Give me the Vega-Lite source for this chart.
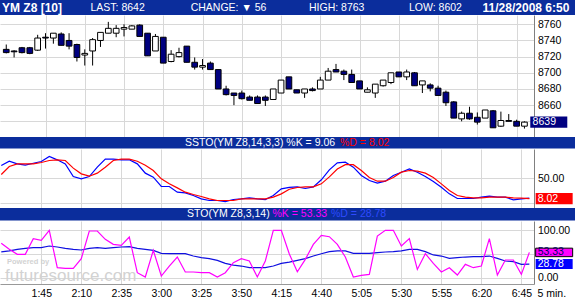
{
  "$schema": "https://vega.github.io/schema/vega-lite/v6.json",
  "padding": 0,
  "background": "white",
  "spacing": 0,
  "bounds": "flush",
  "config": {
    "view": {"stroke": null},
    "font": "Liberation Sans",
    "axis": {
      "labelFont": "Liberation Sans",
      "labelFontSize": 10.5,
      "labelColor": "black",
      "labelOverlap": false,
      "gridColor": "#d8d8d8",
      "gridWidth": 1,
      "ticks": false,
      "domainColor": "#808080",
      "zindex": 0
    }
  },
  "datasets": {
    "bars": [
      {"t":80,"open":8729,"high":8735,"low":8724,"close":8725,"sk":75.5,"sd":57.1,"fk":72.6,"fd":54.3},
      {"t":85,"open":8727,"high":8728,"low":8719,"close":8726,"sk":84.3,"sd":73.5,"fk":59.8,"fd":56.4},
      {"t":90,"open":8731,"high":8732,"low":8724,"close":8725,"sk":78.9,"sd":78.9,"fk":49.2,"fd":59.8},
      {"t":95,"open":8731,"high":8732,"low":8723,"close":8724,"sk":76.2,"sd":78.9,"fk":49.2,"fd":61.9},
      {"t":100,"open":8728,"high":8747,"low":8727,"close":8743,"sk":80.2,"sd":78.9,"fk":82.3,"fd":63.3},
      {"t":105,"open":8744,"high":8749,"low":8730,"close":8743,"sk":83.7,"sd":81.6,"fk":78.8,"fd":63.3},
      {"t":110,"open":8743,"high":8749,"low":8736,"close":8749,"sk":93.9,"sd":85.7,"fk":100,"fd":66.8},
      {"t":115,"open":8748,"high":8750,"low":8734,"close":8734,"sk":87.1,"sd":87.1,"fk":21.1,"fd":64.7},
      {"t":120,"open":8740,"high":8749,"low":8729,"close":8733,"sk":78.9,"sd":85.7,"fk":19.7,"fd":61.9},
      {"t":125,"open":8735,"high":8736,"low":8714,"close":8719,"sk":53,"sd":70.1,"fk":19.7,"fd":59.8},
      {"t":130,"open":8722,"high":8729,"low":8709,"close":8724,"sk":48.3,"sd":58.5,"fk":40.1,"fd":58.4},
      {"t":135,"open":8727,"high":8743,"low":8709,"close":8741,"sk":53,"sd":53.7,"fk":98.5,"fd":61.9},
      {"t":140,"open":8740,"high":8750,"low":8732,"close":8750,"sk":72.1,"sd":59.9,"fk":98.5,"fd":63.3},
      {"t":145,"open":8749,"high":8763,"low":8749,"close":8755,"sk":88.4,"sd":72.1,"fk":80.9,"fd":61.9},
      {"t":150,"open":8749,"high":8759,"low":8744,"close":8755,"sk":88.4,"sd":85.7,"fk":70.3,"fd":63.3},
      {"t":155,"open":8754,"high":8760,"low":8745,"close":8756,"sk":87.1,"sd":88.4,"fk":68.2,"fd":64.7},
      {"t":160,"open":8754,"high":8759,"low":8754,"close":8758,"sk":87.1,"sd":88.4,"fk":85.8,"fd":65.4},
      {"t":165,"open":8759,"high":8760,"low":8745,"close":8745,"sk":78.9,"sd":84.3,"fk":10.5,"fd":61.9},
      {"t":170,"open":8749,"high":8749,"low":8721,"close":8721,"sk":59.9,"sd":76.2,"fk":1.4,"fd":59.8},
      {"t":175,"open":8727,"high":8748,"low":8727,"close":8745,"sk":51.7,"sd":65.3,"fk":57.7,"fd":57.7},
      {"t":180,"open":8744,"high":8744,"low":8712,"close":8712,"sk":32.7,"sd":48.3,"fk":3.5,"fd":51.3},
      {"t":185,"open":8714,"high":8728,"low":8713,"close":8723,"sk":32.7,"sd":38.1,"fk":24.6,"fd":50.6},
      {"t":190,"open":8720,"high":8731,"low":8719,"close":8725,"sk":21.1,"sd":29.9,"fk":43.6,"fd":50.6},
      {"t":195,"open":8733,"high":8733,"low":8713,"close":8713,"sk":19.7,"sd":21.1,"fk":12,"fd":50.6},
      {"t":200,"open":8713,"high":8719,"low":8704,"close":8707,"sk":14.3,"sd":16.3,"fk":12,"fd":45.7},
      {"t":205,"open":8707,"high":8717,"low":8704,"close":8709,"sk":7.5,"sd":12.2,"fk":10.5,"fd":42.2},
      {"t":210,"open":8712,"high":8714,"low":8704,"close":8704,"sk":4.1,"sd":7.5,"fk":10.5,"fd":40.1},
      {"t":215,"open":8704,"high":8704,"low":8680,"close":8680,"sk":4.1,"sd":4.1,"fk":1.4,"fd":36.6},
      {"t":220,"open":8680,"high":8684,"low":8672,"close":8673,"sk":2,"sd":4.1,"fk":10.5,"fd":30.2},
      {"t":225,"open":8675,"high":8675,"low":8660,"close":8672,"sk":6.1,"sd":4.1,"fk":31.6,"fd":26.7},
      {"t":230,"open":8675,"high":8678,"low":8667,"close":8668,"sk":7.5,"sd":7.5,"fk":40.1,"fd":24.6},
      {"t":235,"open":8670,"high":8672,"low":8666,"close":8666,"sk":9.5,"sd":7.5,"fk":35.2,"fd":21.1},
      {"t":240,"open":8670,"high":8672,"low":8662,"close":8662,"sk":7.5,"sd":7.5,"fk":1.4,"fd":21.1},
      {"t":245,"open":8670,"high":8672,"low":8659,"close":8666,"sk":6.1,"sd":7.5,"fk":35.2,"fd":21.1},
      {"t":250,"open":8667,"high":8680,"low":8667,"close":8680,"sk":14.3,"sd":10.9,"fk":100,"fd":24.6},
      {"t":255,"open":8675,"high":8691,"low":8675,"close":8691,"sk":27.9,"sd":17.7,"fk":100,"fd":30.2},
      {"t":260,"open":8695,"high":8695,"low":8680,"close":8680,"sk":31,"sd":27,"fk":50,"fd":33},
      {"t":265,"open":8679,"high":8679,"low":8675,"close":8675,"sk":32,"sd":30.6,"fk":12.6,"fd":36.6},
      {"t":270,"open":8675,"high":8680,"low":8669,"close":8680,"sk":28.6,"sd":32,"fk":38.7,"fd":40.1},
      {"t":275,"open":8680,"high":8682,"low":8677,"close":8678,"sk":32,"sd":32,"fk":70.3,"fd":45.7},
      {"t":280,"open":8680,"high":8695,"low":8680,"close":8691,"sk":46.3,"sd":38.1,"fk":89.3,"fd":50.6},
      {"t":285,"open":8691,"high":8706,"low":8691,"close":8702,"sk":66.7,"sd":52.4,"fk":86.5,"fd":54.9},
      {"t":290,"open":8704,"high":8711,"low":8701,"close":8701,"sk":80.9,"sd":68.3,"fk":70.3,"fd":56.4},
      {"t":295,"open":8702,"high":8704,"low":8691,"close":8698,"sk":82.3,"sd":77.2,"fk":43.6,"fd":56.4},
      {"t":300,"open":8698,"high":8704,"low":8688,"close":8688,"sk":72.1,"sd":77.2,"fk":1.4,"fd":51.3},
      {"t":305,"open":8690,"high":8690,"low":8680,"close":8680,"sk":55.1,"sd":65.3,"fk":4.9,"fd":51.3},
      {"t":310,"open":8676,"high":8682,"low":8676,"close":8679,"sk":44.9,"sd":51,"fk":7,"fd":51.3},
      {"t":315,"open":8675,"high":8686,"low":8669,"close":8686,"sk":39.5,"sd":43.5,"fk":87.9,"fd":52.7},
      {"t":320,"open":8684,"high":8691,"low":8683,"close":8691,"sk":43.5,"sd":43.5,"fk":100,"fd":54.2},
      {"t":325,"open":8688,"high":8700,"low":8686,"close":8700,"sk":55.1,"sd":51,"fk":100,"fd":54.9},
      {"t":330,"open":8701,"high":8701,"low":8695,"close":8695,"sk":61.9,"sd":61.9,"fk":66.8,"fd":56.4},
      {"t":335,"open":8695,"high":8704,"low":8691,"close":8701,"sk":68.7,"sd":65.3,"fk":82.3,"fd":59.8},
      {"t":340,"open":8700,"high":8701,"low":8684,"close":8684,"sk":61.9,"sd":63.9,"fk":17.5,"fd":59.8},
      {"t":345,"open":8685,"high":8690,"low":8675,"close":8690,"sk":53,"sd":59.9,"fk":50.6,"fd":54.9},
      {"t":350,"open":8685,"high":8687,"low":8677,"close":8681,"sk":42.9,"sd":51,"fk":30.2,"fd":48},
      {"t":355,"open":8681,"high":8684,"low":8672,"close":8672,"sk":31.3,"sd":38.1,"fk":12,"fd":45.7},
      {"t":360,"open":8676,"high":8678,"low":8659,"close":8663,"sk":17.7,"sd":24.5,"fk":21.1,"fd":40.8},
      {"t":365,"open":8664,"high":8665,"low":8644,"close":8644,"sk":8.2,"sd":14.3,"fk":5.6,"fd":42.2},
      {"t":370,"open":8643,"high":8652,"low":8640,"close":8650,"sk":8.2,"sd":10.9,"fk":28.2,"fd":43.6},
      {"t":375,"open":8650,"high":8658,"low":8642,"close":8643,"sk":8.2,"sd":9.5,"fk":21.1,"fd":44.3},
      {"t":380,"open":8645,"high":8651,"low":8636,"close":8639,"sk":10.9,"sd":9.5,"fk":24.6,"fd":44.3},
      {"t":385,"open":8644,"high":8654,"low":8644,"close":8654,"sk":12.9,"sd":10.9,"fk":82.3,"fd":45.7},
      {"t":390,"open":8653,"high":8654,"low":8632,"close":8632,"sk":10.9,"sd":10.9,"fk":5.6,"fd":40.8},
      {"t":395,"open":8634,"high":8652,"low":8633,"close":8641,"sk":10.9,"sd":10.9,"fk":37.3,"fd":35.2},
      {"t":400,"open":8641,"high":8649,"low":8640,"close":8640,"sk":5.4,"sd":9.5,"fk":37.3,"fd":33.8},
      {"t":405,"open":8640,"high":8642,"low":8634,"close":8634,"sk":7.5,"sd":8.8,"fk":7,"fd":28.2},
      {"t":410,"open":8634,"high":8640,"low":8631,"close":8639,"sk":9.06,"sd":8.02,"fk":53.33,"fd":28.78}
    ]
  },
  "vconcat": [
    {
      "width": 575,
      "height": 15,
      "view": {"fill": "#0B2D9C", "stroke": null},
      "layer": [
        {
          "data": {"values": [{"slot": 1, "label": "YM Z8 [10]"}, {"slot": 6, "label": "11/28/2008 6:50"}]},
          "mark": {"type": "text", "align": "left", "baseline": "middle", "fontSize": 12, "fontWeight": "bold", "color": "white", "font": "Liberation Sans"},
          "encoding": {
            "x": {"field": "slot", "type": "quantitative", "scale": {"domain": [1, 2, 3, 4, 5, 6], "range": [2, 90.5, 190.7, 309, 409, 482.6]}, "axis": null},
            "text": {"field": "label"}
          }
        },
        {
          "data": {"values": [{"slot": 2, "label": "LAST: 8642"}, {"slot": 3, "label": "CHANGE: ▼ 56"}, {"slot": 4, "label": "HIGH: 8763"}, {"slot": 5, "label": "LOW: 8602"}]},
          "mark": {"type": "text", "align": "left", "baseline": "middle", "fontSize": 10.5, "color": "white", "font": "Liberation Sans"},
          "encoding": {
            "x": {"field": "slot", "type": "quantitative"},
            "text": {"field": "label"}
          }
        }
      ]
    },
    {
      "width": 534,
      "height": 122,
      "layer": [
        {
          "data": {"name": "bars"},
          "mark": {"type": "rule", "color": "black", "strokeWidth": 1, "clip": true},
          "encoding": {
            "x": {"field": "t", "type": "quantitative", "scale": {"domain": [79.2, 412.9], "nice": false, "zero": false},
              "axis": {"values": [105, 130, 155, 180, 205, 230, 255, 280, 305, 330, 355, 380, 405], "tickCount": 30, "labels": false, "domain": false, "grid": true, "title": null}},
            "y": {"field": "low", "type": "quantitative", "scale": {"domain": [8620.6, 8771.5], "nice": false, "zero": false},
              "axis": {"orient": "right", "values": [8640, 8660, 8680, 8700, 8720, 8740, 8760], "tickCount": 20, "format": "d", "labelOverlap": false, "labelBound": false, "labelFlush": false, "labelExpr": "datum.value == 8640 ? '' : datum.label", "grid": true, "domain": true, "labelPadding": 3.5, "labelFontSize": 10.5, "title": null}},
            "y2": {"field": "high"}
          }
        },
        {
          "data": {"name": "bars"},
          "mark": {"type": "bar", "size": 5.7, "stroke": "black", "strokeWidth": 1, "clip": true},
          "encoding": {
            "x": {"field": "t", "type": "quantitative"},
            "y": {"field": "open", "type": "quantitative"},
            "y2": {"field": "close"},
            "color": {"condition": {"test": "datum.open > datum.close", "value": "#000080"}, "value": "white"}
          }
        },
        {
          "data": {"values": [{"v": 8639, "label": "8639"}]},
          "mark": {"type": "point", "shape": "M-1,-0.308L1,-0.308L1,0.308L-1,0.308Z", "size": 1369, "filled": true, "color": "#000080", "opacity": 1, "clip": false},
          "encoding": {"x": {"datum": 425.5, "type": "quantitative"}, "y": {"field": "v", "type": "quantitative"}}
        },
        {
          "data": {"values": [{"v": 8639, "label": "8639"}]},
          "mark": {"type": "text", "align": "left", "baseline": "middle", "fontSize": 10.5, "color": "white", "clip": false},
          "encoding": {"x": {"datum": 415.2, "type": "quantitative"}, "y": {"field": "v", "type": "quantitative"}, "text": {"field": "label"}}
        }
      ]
    },
    {
      "width": 575,
      "height": 11.5,
      "view": {"fill": "#0B2D9C", "stroke": null},
      "layer": [
        {
          "data": {"values": [{"slot": 1, "label": "SSTO(YM Z8,14,3,3) %K = 9.06"}]},
          "mark": {"type": "text", "align": "left", "baseline": "middle", "fontSize": 10.5, "color": "white"},
          "encoding": {
            "x": {"field": "slot", "type": "quantitative", "scale": {"domain": [1, 2], "range": [185, 340]}, "axis": null},
            "text": {"field": "label"}
          }
        },
        {
          "data": {"values": [{"slot": 2, "label": "%D = 8.02"}]},
          "mark": {"type": "text", "align": "left", "baseline": "middle", "fontSize": 10.5, "color": "#FF0000"},
          "encoding": {"x": {"field": "slot", "type": "quantitative"}, "text": {"field": "label"}}
        }
      ]
    },
    {
      "width": 534,
      "height": 59,
      "layer": [
        {
          "data": {"name": "bars"},
          "mark": {"type": "line", "color": "#0000FF", "strokeWidth": 1.2, "clip": true},
          "encoding": {
            "x": {"field": "t", "type": "quantitative", "scale": {"domain": [79.2, 412.9], "nice": false, "zero": false},
              "axis": {"values": [105, 130, 155, 180, 205, 230, 255, 280, 305, 330, 355, 380, 405], "tickCount": 30, "labels": false, "domain": false, "grid": true, "title": null}},
            "y": {"field": "sk", "type": "quantitative", "scale": {"domain": [-11.2, 109.2], "nice": false, "zero": false},
              "axis": {"orient": "right", "values": [0, 50], "tickCount": 10, "format": ".2f", "labelOverlap": false, "labelBound": false, "labelFlush": false, "labelExpr": "datum.value == 0 ? '' : datum.label", "grid": true, "domain": true, "labelPadding": 3.5, "title": null}}
          }
        },
        {
          "data": {"name": "bars"},
          "mark": {"type": "line", "color": "#FF0000", "strokeWidth": 1.2, "clip": true},
          "encoding": {"x": {"field": "t", "type": "quantitative"}, "y": {"field": "sd", "type": "quantitative"}}
        },
        {
          "data": {"values": [{"v": 8.02, "label": "8.02"}]},
          "mark": {"type": "point", "shape": "M-1,-0.308L1,-0.308L1,0.308L-1,0.308Z", "size": 1369, "filled": true, "color": "#FF0000", "opacity": 1, "clip": false},
          "encoding": {"x": {"datum": 425.5, "type": "quantitative"}, "y": {"field": "v", "type": "quantitative"}}
        },
        {
          "data": {"values": [{"v": 8.02, "label": "8.02"}]},
          "mark": {"type": "text", "align": "left", "baseline": "middle", "fontSize": 10.5, "color": "white", "clip": false},
          "encoding": {"x": {"datum": 415.2, "type": "quantitative"}, "y": {"field": "v", "type": "quantitative"}, "text": {"field": "label"}}
        }
      ]
    },
    {
      "width": 575,
      "height": 12.5,
      "view": {"fill": "#0B2D9C", "stroke": null},
      "layer": [
        {
          "data": {"values": [{"slot": 1, "label": "STO(YM Z8,3,14)"}]},
          "mark": {"type": "text", "align": "left", "baseline": "middle", "fontSize": 10.5, "color": "white"},
          "encoding": {
            "x": {"field": "slot", "type": "quantitative", "scale": {"domain": [1, 2, 3], "range": [187, 272.5, 331]}, "axis": null},
            "text": {"field": "label"}
          }
        },
        {
          "data": {"values": [{"slot": 2, "label": "%K = 53.33"}]},
          "mark": {"type": "text", "align": "left", "baseline": "middle", "fontSize": 10.5, "color": "#FF00FF"},
          "encoding": {"x": {"field": "slot", "type": "quantitative"}, "text": {"field": "label"}}
        },
        {
          "data": {"values": [{"slot": 3, "label": "%D = 28.78"}]},
          "mark": {"type": "text", "align": "left", "baseline": "middle", "fontSize": 10.5, "color": "#2E4BFF"},
          "encoding": {"x": {"field": "slot", "type": "quantitative"}, "text": {"field": "label"}}
        }
      ]
    },
    {
      "width": 534,
      "height": 63,
      "layer": [
        {
          "data": {"values": [{"label": "Powered by"}]},
          "mark": {"type": "text", "align": "left", "baseline": "alphabetic", "fontSize": 7.5, "fontWeight": "bold", "color": "#d2d2d2", "clip": true},
          "encoding": {
            "x": {"datum": 83.6, "type": "quantitative", "scale": {"domain": [79.2, 412.9], "nice": false, "zero": false},
              "axis": {"values": [105, 130, 155, 180, 205, 230, 255, 280, 305, 330, 355, 380, 405], "tickCount": 30,
                "labelExpr": "floor(datum.value / 60) + ':' + (datum.value % 60 < 10 ? '0' : '') + (datum.value % 60)",
                "labels": true, "labelOverlap": false, "labelBound": false, "labelFlush": false, "labelFontSize": 10.5,
                "domain": true, "domainColor": "#999999", "grid": true, "labelPadding": 4,
                "title": "5 min.", "titleX": 537, "titleY": 4, "titleAlign": "left", "titleAnchor": "start", "titleBaseline": "top",
                "titleFontWeight": "normal", "titleFontSize": 10.5, "titleFont": "Liberation Sans", "titleColor": "black"}},
            "y": {"datum": 28.5, "type": "quantitative", "scale": {"domain": [-13.3, 119.6], "nice": false, "zero": false},
              "axis": {"orient": "right", "values": [0, 50, 100], "tickCount": 10, "format": ".2f", "labelOverlap": false, "labelBound": false, "labelFlush": false, "labelExpr": "datum.value == 50 ? '' : datum.label", "grid": true, "domain": true, "labelPadding": 3.5, "title": null}},
            "text": {"field": "label"}
          }
        },
        {
          "data": {"values": [{"label": "futuresource.com"}]},
          "mark": {"type": "text", "align": "left", "baseline": "alphabetic", "fontSize": 17, "color": "#d2d2d2", "clip": true},
          "encoding": {"x": {"datum": 82.3, "type": "quantitative"}, "y": {"datum": -7.5, "type": "quantitative"}, "text": {"field": "label"}}
        },
        {
          "data": {"name": "bars"},
          "mark": {"type": "line", "color": "#1010E0", "strokeWidth": 1.2, "clip": true},
          "encoding": {"x": {"field": "t", "type": "quantitative"}, "y": {"field": "fd", "type": "quantitative"}}
        },
        {
          "data": {"name": "bars"},
          "mark": {"type": "line", "color": "#FF00FF", "strokeWidth": 1.2, "clip": true},
          "encoding": {"x": {"field": "t", "type": "quantitative"}, "y": {"field": "fk", "type": "quantitative"}}
        },
        {
          "data": {"values": [{"v": 53.33, "label": "53.33"}]},
          "mark": {"type": "point", "shape": "M-1,-0.23L1,-0.23L1,0.23L-1,0.23Z", "size": 1369, "filled": true, "color": "#FF00FF", "stroke": "black", "strokeWidth": 1, "opacity": 1, "clip": false},
          "encoding": {"x": {"datum": 425.5, "type": "quantitative"}, "y": {"field": "v", "type": "quantitative"}}
        },
        {
          "data": {"values": [{"v": 53.33, "label": "53.33"}]},
          "mark": {"type": "text", "align": "left", "baseline": "middle", "fontSize": 10.5, "color": "#000066", "clip": false},
          "encoding": {"x": {"datum": 415.2, "type": "quantitative"}, "y": {"field": "v", "type": "quantitative"}, "text": {"field": "label"}}
        },
        {
          "data": {"values": [{"v": 28.78, "label": "28.78"}]},
          "mark": {"type": "point", "shape": "M-1,-0.27L1,-0.27L1,0.27L-1,0.27Z", "size": 1369, "filled": true, "color": "#0000FF", "opacity": 1, "clip": false},
          "encoding": {"x": {"datum": 425.5, "type": "quantitative"}, "y": {"field": "v", "type": "quantitative"}}
        },
        {
          "data": {"values": [{"v": 28.78, "label": "28.78"}]},
          "mark": {"type": "text", "align": "left", "baseline": "middle", "fontSize": 10.5, "color": "white", "clip": false},
          "encoding": {"x": {"datum": 415.2, "type": "quantitative"}, "y": {"field": "v", "type": "quantitative"}, "text": {"field": "label"}}
        }
      ]
    }
  ]
}
